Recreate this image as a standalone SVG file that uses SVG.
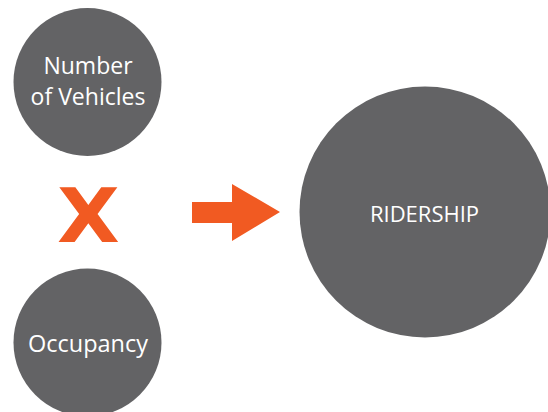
<svg xmlns="http://www.w3.org/2000/svg" width="548" height="412" viewBox="0 0 548 412">
  <style>
    .node { fill: #636365; }
    .label { fill: #ffffff; font-family: "Open Sans", "Noto Sans", "Liberation Sans", sans-serif; text-anchor: middle; }
    .accent { fill: #F15A22; }
  </style>
  <rect width="548" height="412" fill="#ffffff"/>
  <g id="vehicles">
    <circle class="node" cx="87.5" cy="82" r="74"/>
    <text class="label" x="88" y="73.5" font-size="23">Number</text>
    <text class="label" x="88" y="105" font-size="23">of Vehicles</text>
  </g>
  <g id="times">
    <text class="accent" x="0" y="0" font-family="'DejaVu Sans', 'Liberation Sans', sans-serif" font-weight="bold" font-size="74" text-anchor="middle" transform="translate(88.5,242) scale(1.1,1)">X</text>
  </g>
  <g id="occupancy">
    <circle class="node" cx="87.5" cy="342.5" r="74"/>
    <text class="label" x="88" y="352" font-size="23.5">Occupancy</text>
  </g>
  <g id="connectors">
    <polygon class="accent" points="192,202 232,202 232,184 280,212 232,241 232,223 192,223"/>
  </g>
  <g id="ridership">
    <circle class="node" cx="425" cy="212" r="125.5"/>
    <text class="label" x="424.5" y="222" font-size="22">RIDERSHIP</text>
  </g>
</svg>
